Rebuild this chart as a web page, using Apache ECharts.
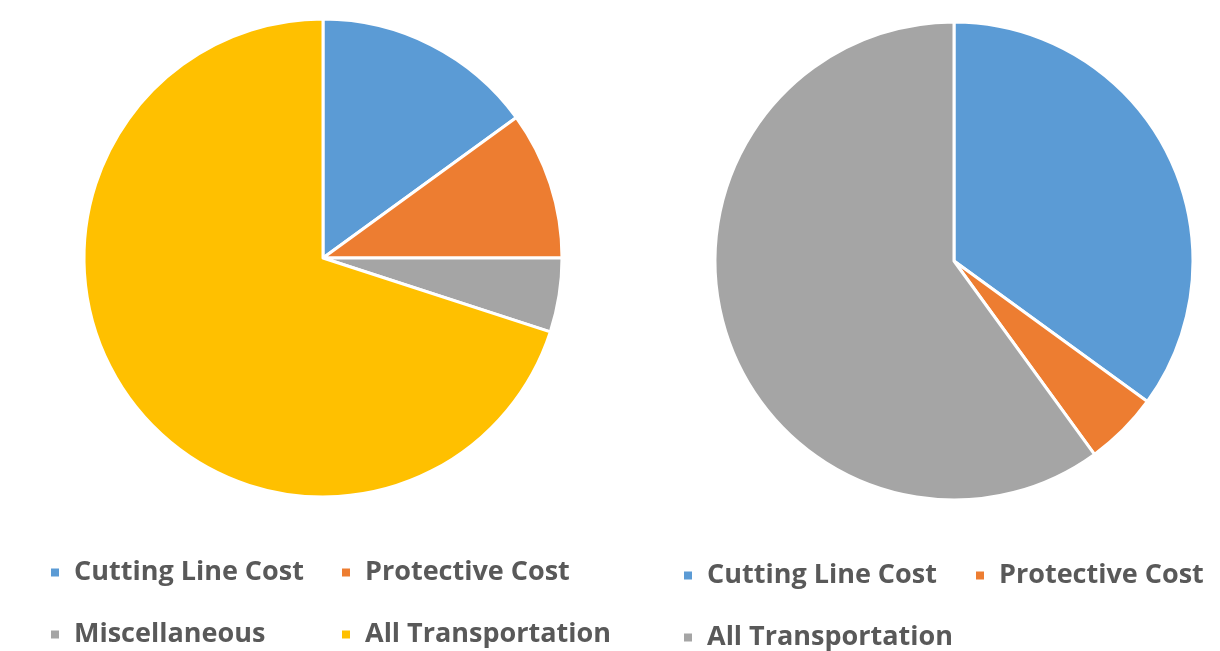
<!DOCTYPE html>
<html>
<head>
<meta charset="utf-8">
<script src="https://cdn.jsdelivr.net/npm/echarts@6/dist/echarts.min.js"></script>
<style>
  html, body { margin: 0; padding: 0; background: #fff; }
  #main { width: 1220px; height: 651px; }
</style>
</head>
<body>
<div id="main"></div>
<script>
// Data (percent shares)
var leftNames = ['Cutting Line Cost', 'Protective Cost', 'Miscellaneous', 'All Transportation'];
var leftValues = [15, 10, 5, 70];
var leftColors = ['#5B9BD5', '#ED7D31', '#A5A5A5', '#FFC000'];

var rightNames = ['Cutting Line Cost', 'Protective Cost', 'All Transportation'];
var rightValues = [35, 5, 60];
var rightColors = ['#5B9BD5', '#ED7D31', '#A5A5A5'];

// legend item placement: [left, top] for each name, per pie
var leftLegendPos = [[49, 559], [340, 559], [49, 621], [340, 621]];
var rightLegendPos = [[682, 562], [974, 562], [682, 624]];

var textColor = '#595959';

function pieData(names, values, colors) {
    return names.map(function (n, i) {
        return { name: n, value: values[i], itemStyle: { color: colors[i] } };
    });
}

function legendItems(names, colors, pos) {
    return names.map(function (n, i) {
        return {
            left: pos[i][0],
            top: pos[i][1],
            icon: 'rect',
            itemWidth: 10,
            itemHeight: 10,
            itemGap: 0,
            selectedMode: false,
            padding: 0,
            textStyle: {
                color: textColor,
                fontFamily: 'Open Sans',
                fontWeight: 'bold',
                fontSize: 27,
                padding: [0, 0, 0, 9]
            },
            data: [{ name: n, itemStyle: { color: colors[i] } }]
        };
    });
}

var dom = document.getElementById('main');
var myChart = echarts.init(dom);

var option = {
    backgroundColor: '#fff',
    animation: false,
    legend: legendItems(leftNames, leftColors, leftLegendPos)
        .concat(legendItems(rightNames, rightColors, rightLegendPos)),
    series: [{
        type: 'pie',
        name: 'left',
        center: [323, 258],
        radius: 239,
        startAngle: 90,
        clockwise: true,
        label: { show: false },
        labelLine: { show: false },
        itemStyle: { borderColor: '#fff', borderWidth: 3 },
        emphasis: { disabled: true },
        data: pieData(leftNames, leftValues, leftColors)
    }, {
        type: 'pie',
        name: 'right',
        center: [954, 261],
        radius: 239,
        startAngle: 90,
        clockwise: true,
        label: { show: false },
        labelLine: { show: false },
        itemStyle: { borderColor: '#fff', borderWidth: 3 },
        emphasis: { disabled: true },
        data: pieData(rightNames, rightValues, rightColors)
    }]
};

myChart.setOption(option);
</script>
</body>
</html>
